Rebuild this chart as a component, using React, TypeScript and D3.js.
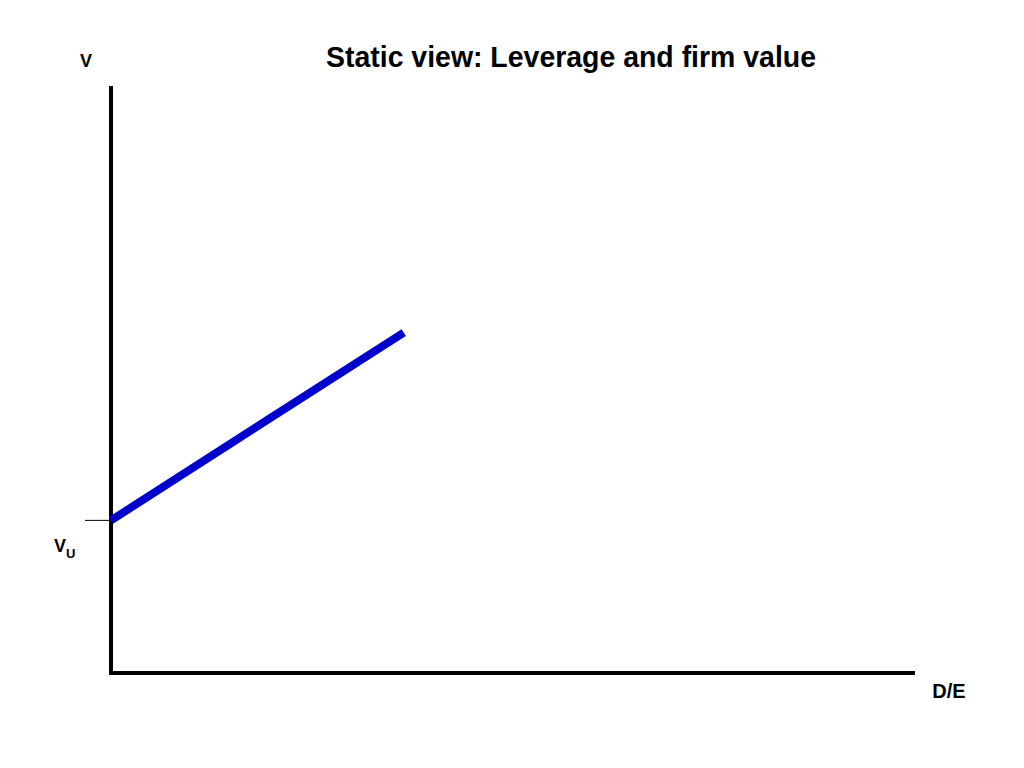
import * as d3 from "d3";

const WIDTH = 1024;
const HEIGHT = 768;
const MARGIN = { top: 86, right: 111, bottom: 95, left: 111 };

// leverage (D/E) and firm value (V), arbitrary units
const leverage = [0, 3.65];
const firmValue = [2.6, 5.8];
const vUnlevered = 2.6;

const X_MAX = 10;
const Y_MAX = 10;

const FONT = "Liberation Sans, Arial, Helvetica, sans-serif";

const App = () => {
  const boundsWidth = WIDTH - MARGIN.left - MARGIN.right;
  const boundsHeight = HEIGHT - MARGIN.top - MARGIN.bottom;

  const xScale = d3.scaleLinear().domain([0, X_MAX]).range([0, boundsWidth]);
  const yScale = d3.scaleLinear().domain([0, Y_MAX]).range([boundsHeight, 0]);

  const points = leverage.map((d, i) => [d, firmValue[i]] as [number, number]);
  const lineGen = d3
    .line<[number, number]>()
    .x((d) => xScale(d[0]))
    .y((d) => yScale(d[1]));

  return (
    <div style={{ position: "absolute", left: 0, top: 0 }}>
      <svg width={WIDTH} height={HEIGHT} style={{ display: "block", background: "#fff" }}>
        <text
          x={571}
          y={67}
          textAnchor="middle"
          fontFamily={FONT}
          fontWeight="bold"
          fontSize={29}
          textLength={490}
          lengthAdjust="spacingAndGlyphs"
        >
          Static view: Leverage and firm value
        </text>
        <g transform={`translate(${MARGIN.left}, ${MARGIN.top})`}>
          {/* y axis */}
          <line
            x1={xScale(0)}
            x2={xScale(0)}
            y1={yScale(Y_MAX)}
            y2={yScale(0) + 2}
            stroke="#000"
            strokeWidth={4}
          />
          {/* x axis */}
          <line
            x1={xScale(0) - 2}
            x2={xScale(X_MAX) + 2}
            y1={yScale(0)}
            y2={yScale(0)}
            stroke="#000"
            strokeWidth={4}
          />
          {/* Vu tick */}
          <line
            x1={xScale(0) - 26}
            x2={xScale(0)}
            y1={yScale(vUnlevered)}
            y2={yScale(vUnlevered)}
            stroke="#000"
            strokeWidth={1}
          />
          <path d={lineGen(points) ?? ""} fill="none" stroke="#0000CC" strokeWidth={8} />
          <text
            x={xScale(0) - 25}
            y={-19}
            textAnchor="middle"
            fontFamily={FONT}
            fontWeight="bold"
            fontSize={18}
          >
            V
          </text>
          <text
            x={xScale(0) - 57}
            y={yScale(vUnlevered) + 32}
            fontFamily={FONT}
            fontWeight="bold"
            fontSize={18}
          >
            V<tspan fontSize={13} dy={6}>U</tspan>
          </text>
          <text
            x={xScale(X_MAX) + 36}
            y={yScale(0) + 25}
            textAnchor="middle"
            fontFamily={FONT}
            fontWeight="bold"
            fontSize={20}
          >
            D/E
          </text>
        </g>
      </svg>
    </div>
  );
};

export default App;
